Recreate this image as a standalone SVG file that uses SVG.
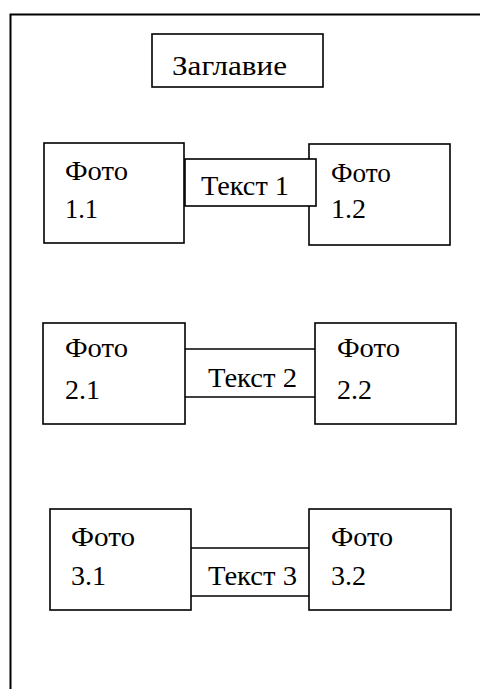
<svg xmlns="http://www.w3.org/2000/svg" width="480" height="689" viewBox="0 0 480 689">
<style>
.box{fill:#fff;stroke:#000;stroke-width:1.6}
.frame{fill:none;stroke:#000;stroke-width:2}
.ln{stroke:#000;stroke-width:1.6;fill:none}
</style>
<rect width="480" height="689" fill="#fff"/>
<path class="frame" d="M10.5 689 V14.5 H480"/>
<g font-family="Liberation Serif, DejaVu Serif, serif" font-size="27.5" fill="#000" lengthAdjust="spacingAndGlyphs">
<g id="title"><rect class="box" x="152" y="34" width="171" height="53"/><text x="172" y="75" textLength="115" lengthAdjust="spacingAndGlyphs">Заглавие</text></g>
<g id="photo11"><rect class="box" x="44" y="143" width="140" height="100"/><text x="65" y="180" textLength="63" lengthAdjust="spacingAndGlyphs">Фото</text><text x="65" y="218" textLength="33" lengthAdjust="spacingAndGlyphs">1.1</text></g>
<g id="photo12"><rect class="box" x="309" y="144" width="141" height="101"/><text x="331" y="182" textLength="60" lengthAdjust="spacingAndGlyphs">Фото</text><text x="331" y="218" textLength="35" lengthAdjust="spacingAndGlyphs">1.2</text></g>
<g id="text1"><rect class="box" x="185" y="159" width="131" height="47"/><text x="201" y="195" textLength="88" lengthAdjust="spacingAndGlyphs">Текст 1</text></g>
<g id="connectors">
<line class="ln" x1="185" y1="349" x2="315" y2="349"/>
<line class="ln" x1="185" y1="397" x2="315" y2="397"/>
<line class="ln" x1="191" y1="548" x2="309" y2="548"/>
<line class="ln" x1="191" y1="596" x2="309" y2="596"/>
</g>
<g id="photo21"><rect class="box" x="43" y="323" width="142" height="101"/><text x="65" y="357" textLength="63" lengthAdjust="spacingAndGlyphs">Фото</text><text x="65" y="399" textLength="35" lengthAdjust="spacingAndGlyphs">2.1</text></g>
<g id="text2"><text x="208" y="387" textLength="89" lengthAdjust="spacingAndGlyphs">Текст 2</text></g>
<g id="photo22"><rect class="box" x="315" y="323" width="141" height="101"/><text x="337" y="357" textLength="63" lengthAdjust="spacingAndGlyphs">Фото</text><text x="337" y="399" textLength="35" lengthAdjust="spacingAndGlyphs">2.2</text></g>
<g id="photo31"><rect class="box" x="50" y="509" width="141" height="101"/><text x="71" y="546" textLength="64" lengthAdjust="spacingAndGlyphs">Фото</text><text x="71" y="585" textLength="35" lengthAdjust="spacingAndGlyphs">3.1</text></g>
<g id="text3"><text x="208" y="585" textLength="89" lengthAdjust="spacingAndGlyphs">Текст 3</text></g>
<g id="photo32"><rect class="box" x="309" y="509" width="142" height="101"/><text x="331" y="546" textLength="62" lengthAdjust="spacingAndGlyphs">Фото</text><text x="331" y="585" textLength="35" lengthAdjust="spacingAndGlyphs">3.2</text></g>
</g>
</svg>
